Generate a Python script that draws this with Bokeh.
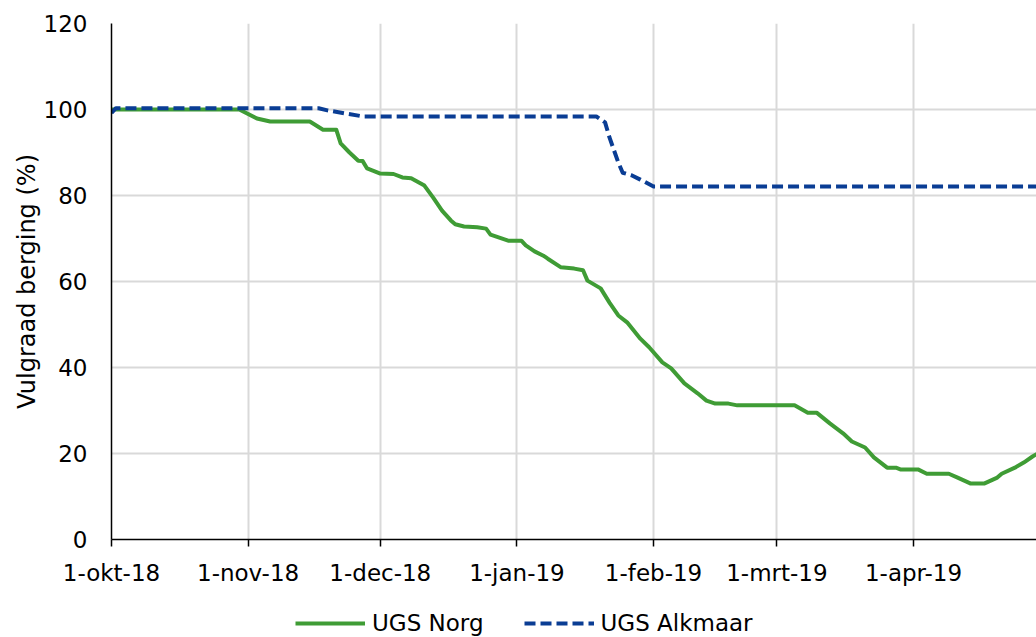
import pandas as pd
from bokeh.plotting import figure
from bokeh.layouts import column
from bokeh.models import FixedTicker, Legend, LegendItem, Range1d, ColumnDataSource
from bokeh.embed import file_html
from bokeh.resources import INLINE

# ---- data ----
norg_dates = ["2018-10-01", "2018-10-30", "2018-11-03", "2018-11-06", "2018-11-15", "2018-11-18",
              "2018-11-21", "2018-11-22", "2018-11-24", "2018-11-26", "2018-11-27", "2018-11-28",
              "2018-12-01", "2018-12-04", "2018-12-06", "2018-12-08", "2018-12-11", "2018-12-13",
              "2018-12-15", "2018-12-17", "2018-12-18", "2018-12-20", "2018-12-23", "2018-12-25",
              "2018-12-26", "2018-12-30", "2019-01-02", "2019-01-03", "2019-01-05", "2019-01-07",
              "2019-01-08", "2019-01-11", "2019-01-14", "2019-01-16", "2019-01-17", "2019-01-20",
              "2019-01-22", "2019-01-24", "2019-01-26", "2019-01-29", "2019-01-31", "2019-02-03",
              "2019-02-05", "2019-02-08", "2019-02-11", "2019-02-13", "2019-02-15", "2019-02-18",
              "2019-02-20", "2019-03-05", "2019-03-08", "2019-03-10", "2019-03-13", "2019-03-16",
              "2019-03-18", "2019-03-21", "2019-03-23", "2019-03-26", "2019-03-28", "2019-03-29",
              "2019-04-02", "2019-04-04", "2019-04-09", "2019-04-11", "2019-04-14", "2019-04-17",
              "2019-04-20", "2019-04-21", "2019-04-24", "2019-04-26", "2019-04-28", "2019-04-30"]
norg_values = [100.0, 100.0, 97.9, 97.2, 97.2, 95.3,
               95.3, 92.1, 90.0, 88.1, 88.0, 86.3,
               85.1, 85.0, 84.2, 84.0, 82.3, 79.5,
               76.5, 74.2, 73.3, 72.8, 72.6, 72.3,
               70.9, 69.5, 69.5, 68.4, 67.0, 66.0,
               65.3, 63.3, 63.0, 62.6, 60.2, 58.4,
               55.1, 52.1, 50.5, 46.7, 44.7, 41.2,
               39.8, 36.3, 34.0, 32.3, 31.6, 31.6,
               31.2, 31.2, 29.5, 29.5, 27.0, 24.7,
               22.8, 21.4, 19.1, 16.7, 16.7, 16.3,
               16.3, 15.3, 15.3, 14.4, 13.0, 13.0,
               14.4, 15.3, 16.7, 17.9, 19.3, 20.5]

alkmaar_dates = ["2018-10-01", "2018-10-02", "2018-11-17", "2018-11-19", "2018-11-23", "2018-11-27",
                 "2019-01-19", "2019-01-21", "2019-01-22", "2019-01-24", "2019-01-25", "2019-01-27",
                 "2019-01-29", "2019-02-01", "2019-04-30"]
alkmaar_values = [99.2, 100.3, 100.3, 99.8, 99.1, 98.4,
                  98.4, 97.0, 93.5, 87.7, 85.3, 84.7,
                  83.7, 82.1, 82.1]

tick_dates = ["2018-10-01", "2018-11-01", "2018-12-01", "2019-01-01", "2019-02-01", "2019-03-01", "2019-04-01"]
tick_labels = ["1-okt-18", "1-nov-18", "1-dec-18", "1-jan-19", "1-feb-19", "1-mrt-19", "1-apr-19"]
y_ticks = [0, 20, 40, 60, 80, 100, 120]

series_names = ["UGS Norg", "UGS Alkmaar"]

# ---- styling ----
GREEN = "#3f9c35"
BLUE = "#0a3d94"
FONT = "DejaVu Sans"

x0 = pd.Timestamp("2018-10-01")
x1 = x0 + pd.Timedelta(days=209.9)

src_n = ColumnDataSource(dict(x=pd.to_datetime(norg_dates), y=norg_values))
src_a = ColumnDataSource(dict(x=pd.to_datetime(alkmaar_dates), y=alkmaar_values))

# ---- main chart ----
p = figure(width=1036, height=588, x_axis_type="datetime", output_backend="svg",
           toolbar_location=None, x_range=Range1d(x0, x1), y_range=Range1d(0, 120),
           min_border_left=111, min_border_right=0, min_border_top=23, min_border_bottom=49)
p.outline_line_color = None
p.background_fill_color = "white"
p.border_fill_color = "white"

p.line("x", "y", source=src_n, line_color=GREEN, line_width=4, line_join="round")
p.line("x", "y", source=src_a, line_color=BLUE, line_width=4, line_dash="11 5", line_join="round")

tick_ms = [int(pd.Timestamp(d).value // 10**6) for d in tick_dates]
p.xaxis.ticker = FixedTicker(ticks=tick_ms)
p.xaxis.major_label_overrides = {t: l for t, l in zip(tick_ms, tick_labels)}
p.yaxis.ticker = FixedTicker(ticks=y_ticks)

for ax in (p.xaxis, p.yaxis):
    ax.axis_line_color = "black"
    ax.axis_line_width = 1.5
    ax.major_label_text_font = FONT
    ax.major_label_text_font_size = "23px"
    ax.major_label_text_color = "black"
    ax.minor_tick_line_color = None
    ax.major_tick_in = 0

p.xaxis.major_tick_out = 7
p.xaxis.major_tick_line_color = "black"
p.xaxis.major_tick_line_width = 1.5
p.xaxis.major_label_standoff = 13
p.yaxis.major_tick_out = 0
p.yaxis.major_tick_line_color = None
p.yaxis.major_label_standoff = 24
p.yaxis.axis_label = "Vulgraad berging (%)"
p.yaxis.axis_label_text_font = FONT
p.yaxis.axis_label_text_font_size = "24px"
p.yaxis.axis_label_text_font_style = "normal"
p.yaxis.axis_label_text_color = "black"
p.yaxis.axis_label_standoff = 0

p.xgrid.ticker = FixedTicker(ticks=tick_ms)
p.ygrid.ticker = FixedTicker(ticks=y_ticks)
p.grid.grid_line_color = "#d9d9d9"
p.grid.grid_line_width = 2

# ---- legend strip below the chart ----
lg = figure(width=1036, height=49, x_axis_type="datetime", output_backend="svg",
            toolbar_location=None, x_axis_location=None, y_axis_location=None,
            x_range=Range1d(x0, x1), y_range=Range1d(1000, 1001),
            min_border=0)
lg.outline_line_color = None
lg.grid.visible = False
lg.background_fill_color = "white"
lg.border_fill_color = "white"
l1 = lg.line("x", "y", source=src_n, line_color=GREEN, line_width=4)
l2 = lg.line("x", "y", source=src_a, line_color=BLUE, line_width=4, line_dash="11 5")

legend = Legend(items=[LegendItem(label=series_names[0], renderers=[l1]),
                       LegendItem(label=series_names[1], renderers=[l2])],
                location=(184, 1), orientation="horizontal",
                glyph_width=70, glyph_height=20, label_standoff=7, spacing=40,
                padding=0, margin=0, border_line_color=None, background_fill_alpha=0,
                label_text_font=FONT, label_text_font_size="23px", label_text_color="black")
lg.add_layout(legend)

layout = column(p, lg, spacing=0)
open("out.html", "w").write(file_html(layout, INLINE))
